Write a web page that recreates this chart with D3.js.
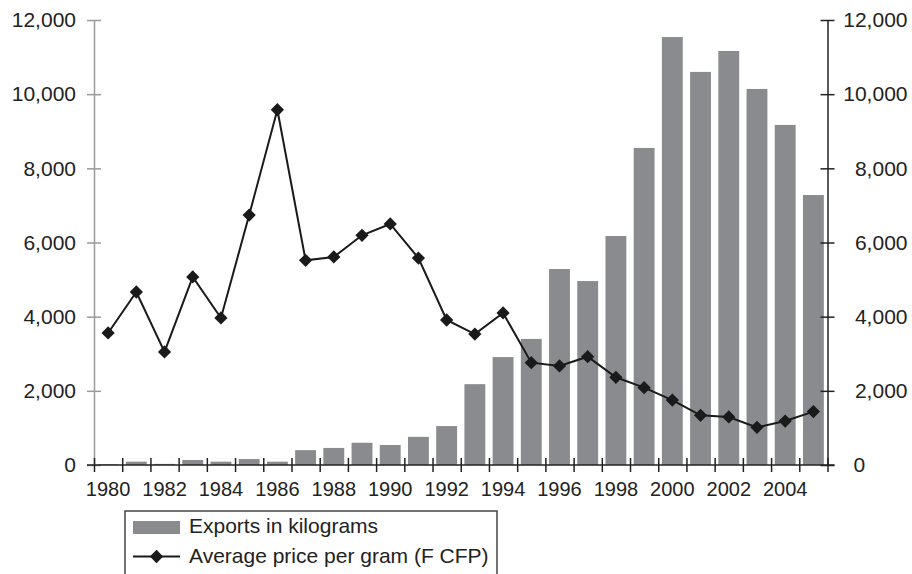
<!DOCTYPE html>
<head>
  <meta charset="utf-8">
  <script src="https://d3js.org/d3.v7.min.js"></script>
  <title>Exports and average price</title>
  <style>
    body { margin: 0; background: #fff; }
    svg { display: block; }
    body, .axis text { font-family: 'Liberation Sans', Arial, sans-serif; }
    .axis path { fill: none; }
    .bar { fill: #8a8b8f; }
    .line { fill: none; stroke: #1a1a1a; stroke-width: 2; }
  </style>
</head>
<body>
<svg width="912" height="574"></svg>
<script>

var years = d3.range(1980, 2006);
var exportsKg = [20, 90, 30, 135, 90, 160, 90, 400, 460, 600, 540, 760, 1050, 2180, 2910, 3400,
                 5285, 4960, 6175, 8550, 11540, 10600, 11165, 10140, 9170, 7280];
var pricePerGram = [3560, 4665, 3050, 5070, 3965, 6740, 9580, 5520, 5610, 6195, 6500, 5580, 3910, 3530, 4100, 2760,
                    2670, 2920, 2365, 2085, 1750, 1340, 1295, 1015, 1185, 1440];
var yTicks = [0, 2000, 4000, 6000, 8000, 10000, 12000];
var yearLabels = d3.range(1980, 2006, 2);

var svg = d3.select("svg");
var plotLeft = 94, plotRight = 827.5, plotTop = 20, plotBottom = 465;

var x = d3.scaleBand()
    .domain(years)
    .range([plotLeft, plotRight])
    .padding(0);

var xEdge = d3.scaleLinear()
    .domain([0, years.length])
    .range([plotLeft, plotRight]);

var y = d3.scaleLinear()
    .domain([0, 12000])
    .range([plotBottom, plotTop]);

var fmt = d3.format(",");
var barW = x.bandwidth() * 0.74;

// bars
svg.append("g").selectAll("rect")
    .data(years)
    .enter().append("rect")
    .attr("class", "bar")
    .attr("x", function(d) { return x(d) + (x.bandwidth() - barW) / 2; })
    .attr("width", barW)
    .attr("y", function(d, i) { return y(exportsKg[i]); })
    .attr("height", function(d, i) { return plotBottom - y(exportsKg[i]); });

// left axis (grey)
var yl = svg.append("g")
    .attr("class", "axis")
    .attr("transform", "translate(" + plotLeft + ",0)")
    .call(d3.axisLeft(y).tickValues(yTicks).tickFormat(fmt).tickSize(7).tickSizeOuter(0).tickPadding(11));
yl.select(".domain").attr("stroke", "#9a9a9a").attr("stroke-width", 1.5);
yl.selectAll(".tick line").attr("stroke", "#9a9a9a").attr("stroke-width", 1.5).attr("x2", 7).attr("x1", -7);
yl.selectAll(".tick text").attr("font-size", 21).attr("fill", "#222").attr("x", -18);

// right axis (dark)
var yr = svg.append("g")
    .attr("class", "axis")
    .attr("transform", "translate(" + plotRight + ",0)")
    .call(d3.axisRight(y).tickValues(yTicks).tickFormat(fmt).tickSize(7).tickSizeOuter(0));
yr.select(".domain").attr("stroke", "#222").attr("stroke-width", 1.5);
yr.selectAll(".tick line").attr("stroke", "#222").attr("stroke-width", 1.5).attr("x1", -7).attr("x2", 7);
yr.selectAll(".tick text")
    .attr("font-size", 21).attr("fill", "#222")
    .attr("text-anchor", function(d) { return d === 0 ? "start" : "end"; })
    .attr("x", function(d) { return d === 0 ? 26 : 80; });

// bottom axis: ticks between the years
var xb = svg.append("g")
    .attr("class", "axis")
    .attr("transform", "translate(0," + plotBottom + ")")
    .call(d3.axisBottom(xEdge).tickValues(d3.range(years.length + 1)).tickFormat("").tickSize(7).tickSizeOuter(0));
xb.select(".domain").attr("stroke", "#222").attr("stroke-width", 1.5)
    .attr("d", "M" + (plotLeft - 7) + ",0H" + (plotRight + 7));
xb.selectAll(".tick line").attr("stroke", "#222").attr("stroke-width", 1.5).attr("y1", -7).attr("y2", 7);

// year labels
var xl = svg.append("g")
    .attr("class", "axis")
    .attr("transform", "translate(0," + plotBottom + ")")
    .call(d3.axisBottom(x).tickValues(yearLabels).tickSize(0).tickPadding(17));
xl.select(".domain").remove();
xl.selectAll(".tick text").attr("font-size", 20).attr("fill", "#222");

// price line
var line = d3.line()
    .x(function(d) { return x(d) + x.bandwidth() / 2; })
    .y(function(d, i) { return y(pricePerGram[i]); });

svg.append("path")
    .attr("class", "line")
    .attr("d", line(years));

var diamond = d3.symbol().type(d3.symbolSquare).size(88);
svg.append("g").selectAll("path")
    .data(years)
    .enter().append("path")
    .attr("d", diamond)
    .attr("fill", "#1a1a1a")
    .attr("transform", function(d, i) {
      return "translate(" + (x(d) + x.bandwidth() / 2) + "," + y(pricePerGram[i]) + ") rotate(45)";
    });

// legend
var lg = svg.append("g");
lg.append("path")
    .attr("d", "M125,580V511H497V580")
    .attr("fill", "none")
    .attr("stroke", "#444")
    .attr("stroke-width", 1.5);
lg.append("rect")
    .attr("class", "bar")
    .attr("x", 133).attr("y", 521).attr("width", 47).attr("height", 13);
lg.append("text")
    .attr("x", 189).attr("y", 533)
    .attr("font-size", 21).attr("fill", "#222")
    .text("Exports in kilograms");
lg.append("line")
    .attr("x1", 133).attr("x2", 180).attr("y1", 556.5).attr("y2", 556.5)
    .attr("stroke", "#1a1a1a").attr("stroke-width", 2);
lg.append("path")
    .attr("d", diamond)
    .attr("fill", "#1a1a1a")
    .attr("transform", "translate(156.5,556.5) rotate(45)");
lg.append("text")
    .attr("x", 189).attr("y", 563)
    .attr("font-size", 21).attr("fill", "#222")
    .text("Average price per gram (F CFP)");

</script>
</body>
